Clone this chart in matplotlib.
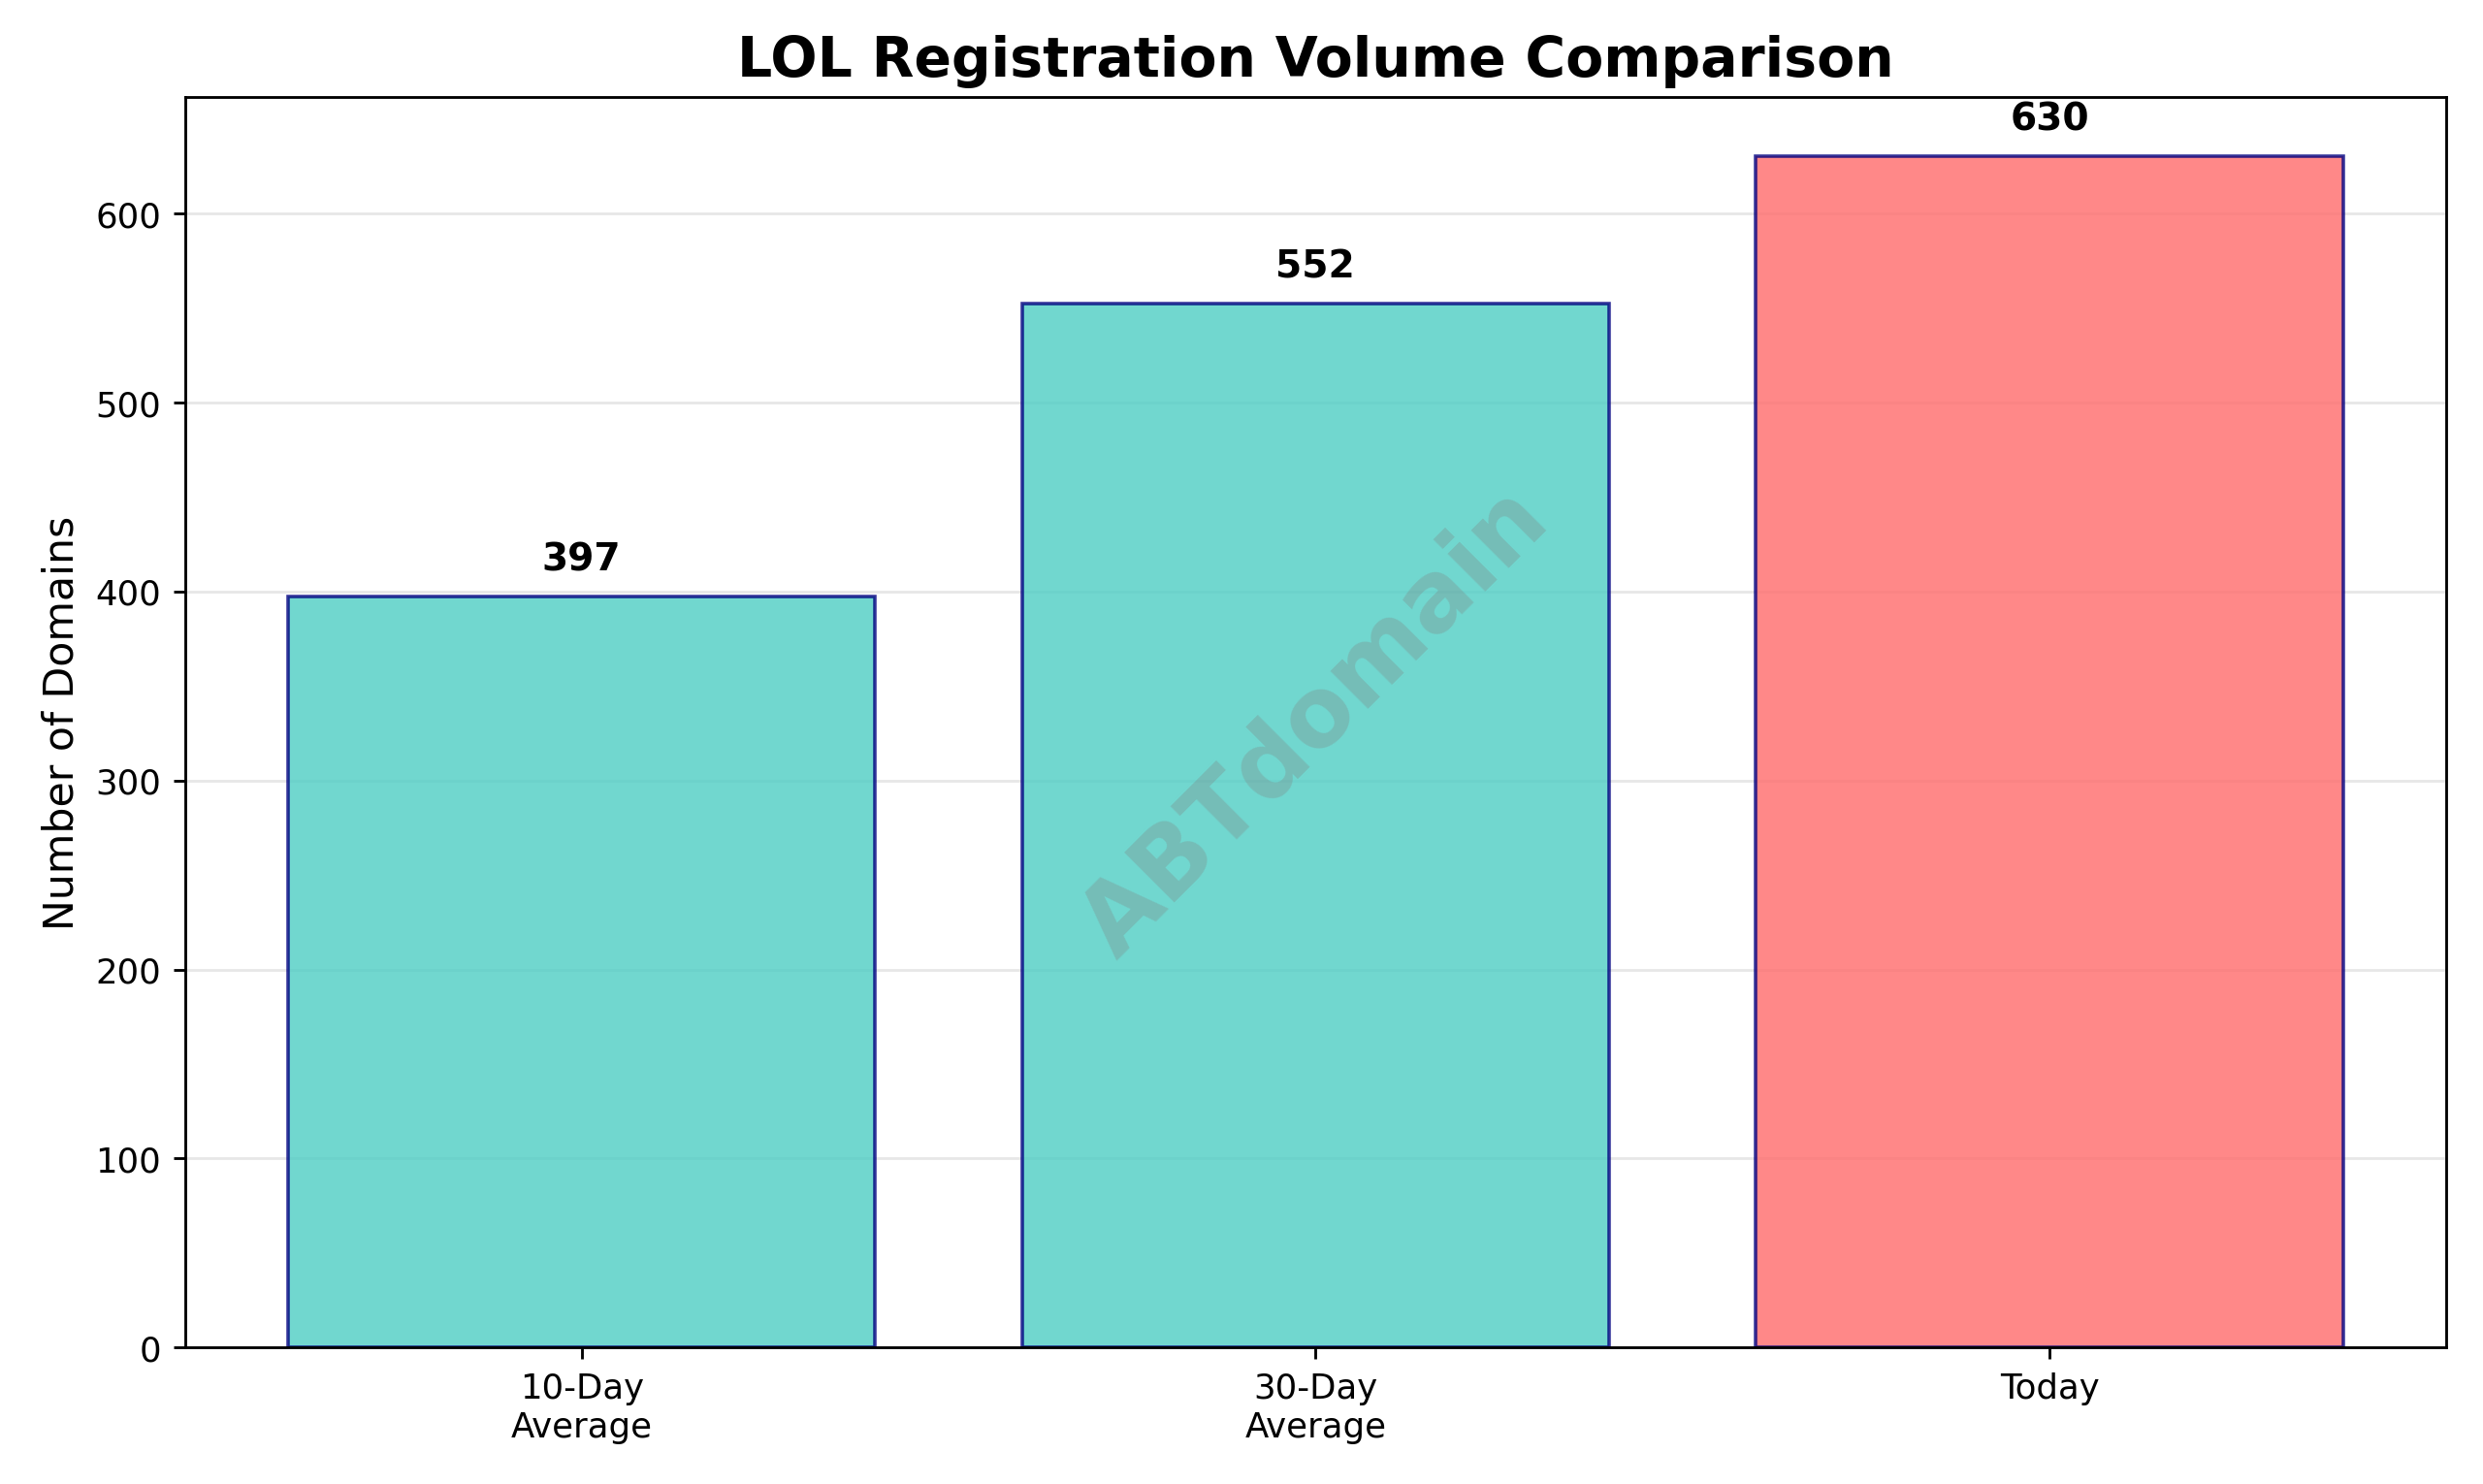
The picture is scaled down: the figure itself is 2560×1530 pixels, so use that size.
import matplotlib
matplotlib.use("Agg")
import matplotlib.pyplot as plt

categories = ["10-Day\nAverage", "30-Day\nAverage", "Today"]
values = [397, 552, 630]
colors = ["#4ECDC4", "#4ECDC4", "#FF6B6B"]

fig, ax = plt.subplots(figsize=(10, 5.98))
bars = ax.bar(categories, values, color=colors, alpha=0.8,
              edgecolor="navy", linewidth=1)
for bar, v in zip(bars, values):
    ax.text(bar.get_x() + bar.get_width() / 2, v + 10, f"{v}",
            ha="center", va="bottom", fontweight="bold", fontsize=11)

ax.set_ylabel("Number of Domains", fontsize=12)
ax.set_title("LOL Registration Volume Comparison", fontsize=16, fontweight="bold")
ax.set_ylim(0, max(values) * 1.05)
ax.grid(axis="y", alpha=0.3)
ax.set_axisbelow(True)
ax.text(0.5, 0.5, "ABTdomain", transform=ax.transAxes, fontsize=28,
        color="gray", alpha=0.3, ha="center", va="center", rotation=45,
        fontweight="bold")

plt.tight_layout()
plt.savefig("out.png", dpi=256)
